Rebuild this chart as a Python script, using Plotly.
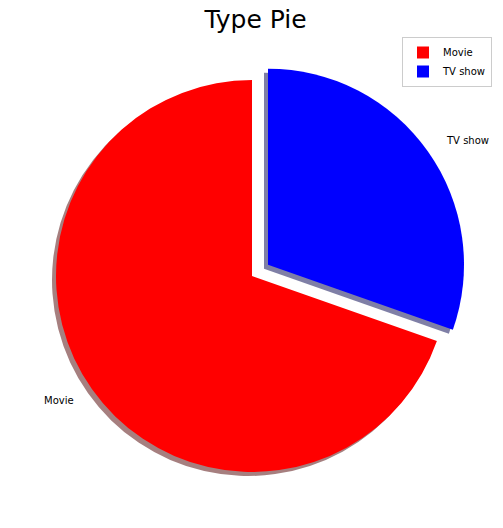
import math
import plotly.graph_objects as go

categories = ["Movie", "TV show"]
counts = [6131, 2676]
colors = ["#ff0000", "#0000ff"]
shadow_colors = ["rgba(77,0,0,0.5)", "rgba(0,0,77,0.5)"]
explode = [0, 0.1]

OFF = 8                     # page body margin
W, H = 503 - OFF, 528 - OFF
cx, cy = 252 - OFF, 276 - OFF   # pie centre in figure pixels
R = 196
maxpull = max(explode)
half = R * (1 + maxpull)

total = sum(counts)
# matplotlib: first wedge starts at 12 o'clock going counterclockwise
# plotly (clockwise): start the first slice where it would end
rot = 360.0 * (total - counts[0]) / total

def dom(dx=0, dy=0):
    x0 = (cx + dx - half) / W
    x1 = (cx + dx + half) / W
    yc = H - (cy + dy)
    return dict(x=[x0, x1], y=[(yc - half) / H, (yc + half) / H])

fig = go.Figure()
fig.add_trace(go.Pie(
    labels=categories, values=counts, sort=False, direction="clockwise",
    rotation=rot, pull=explode, textinfo="none", hoverinfo="skip",
    marker=dict(colors=shadow_colors, line=dict(width=0)),
    showlegend=False, domain=dom(-4, 4),
))
fig.add_trace(go.Pie(
    labels=categories, values=counts, sort=False, direction="clockwise",
    rotation=rot, pull=explode, textinfo="none",
    marker=dict(colors=colors, line=dict(width=0)),
    domain=dom(0, 0),
))

start = 90.0
anns = []
for lab, v, ex in zip(categories, counts, explode):
    span = 360.0 * v / total
    mid = math.radians(start + span / 2)
    start += span
    d = R * (ex + 1.1)
    px = cx + d * math.cos(mid)
    py = cy - d * math.sin(mid)
    anns.append(dict(
        x=px / W, y=1 - py / H, xref="paper", yref="paper", text=lab,
        showarrow=False, xanchor="left" if math.cos(mid) > 0 else "right",
        yanchor="middle", font=dict(size=10, color="black"),
    ))

fig.update_layout(
    width=W, height=H,
    margin=dict(l=0, r=0, t=0, b=0),
    paper_bgcolor="white", plot_bgcolor="white",
    font=dict(family="DejaVu Sans", color="black"),
    title=dict(text="Type Pie", x=0.5, xanchor="center",
               xref="paper", y=1 - (19 - OFF) / H,
               yanchor="middle", font=dict(size=25, color="black")),
    legend=dict(x=(492 - OFF) / W, xanchor="right", y=1 - (37 - OFF) / H,
                yanchor="top", bordercolor="#cccccc", borderwidth=1,
                bgcolor="white", font=dict(size=10), traceorder="normal",
                itemwidth=30, tracegroupgap=0),
    annotations=anns,
)

fig.write_html("out.html")
